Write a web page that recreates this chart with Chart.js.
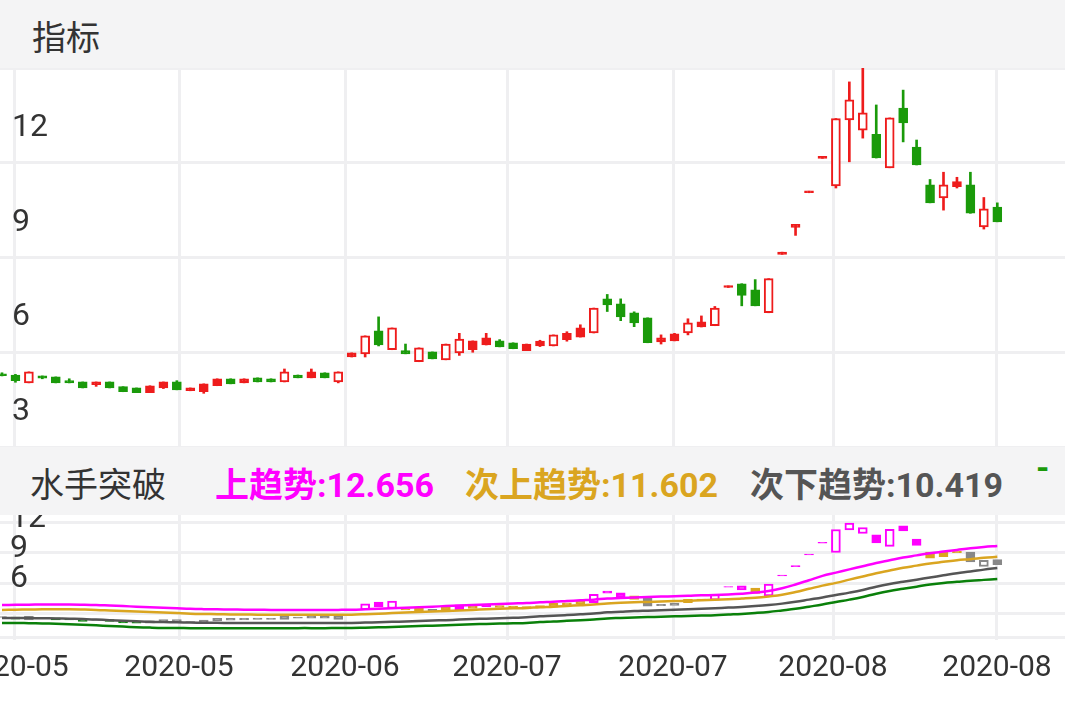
<!DOCTYPE html>
<html>
<head>
<meta charset="utf-8">
<script src="https://cdn.jsdelivr.net/npm/chart.js@4.4.0/dist/chart.umd.min.js"></script>
<style>
  body { margin: 0; width: 1065px; height: 708px; overflow: hidden; background: #fff; font-family: Roboto, "Noto Sans CJK SC", sans-serif; }
  .bar { position: absolute; left: 0; width: 1065px; height: 68px; background: #f4f4f5; color: #333; font-size: 34px; }
  .bar span { position: absolute; top: 11px; white-space: nowrap; }
  #top { position: absolute; left: 0; top: 68px; width: 1065px; height: 379px; }
  #low { position: absolute; left: 0; top: 515px; width: 1065px; height: 193px; }
</style>
</head>
<body>
<div class="bar" style="top:0"><span style="left:32px">指标</span></div>
<div class="bar" style="top:447px">
  <span style="left:30px">水手突破</span>
  <span style="left:215px;color:#ff00ff;font-weight:bold">上趋势:12.656</span>
  <span style="left:465px;color:#daa520;font-weight:bold">次上趋势:11.602</span>
  <span style="left:750px;color:#555;font-weight:bold">次下趋势:10.419</span>
  <span style="left:1036px;top:0px;color:#1a9a0a;font-weight:bold">-</span>
</div>
<div id="top"><canvas id="topChart"></canvas></div>
<div id="low"><canvas id="lowChart"></canvas></div>
<script>
const opens  = [3.82,3.78,3.53,3.75,3.72,3.6,3.56,3.47,3.56,3.41,3.37,3.22,3.37,3.56,3.28,3.25,3.44,3.66,3.53,3.69,3.66,3.56,3.78,3.69,3.85,3.56,4.35,4.45,5.18,4.58,4.55,4.2,4.51,4.26,4.48,4.58,4.73,4.86,4.8,4.55,4.7,4.7,4.9,4.98,5.11,6.19,6.03,5.75,5.59,4.83,4.86,5.11,5.3,5.34,6.55,6.67,6.48,5.75,7.6,8.45,9.55,10.64,9.77,11.86,11.53,11.4,10.34,12.23,11.0,9.8,9.39,9.74,9.8,8.47,9.1];
const highs  = [3.85,3.8,3.88,3.75,3.72,3.66,3.56,3.56,3.56,3.41,3.37,3.44,3.56,3.6,3.37,3.5,3.66,3.66,3.66,3.69,3.66,3.97,3.78,3.97,3.85,3.88,4.48,5.02,5.62,5.27,4.76,4.64,4.51,4.76,5.1,4.86,5.1,4.9,4.8,4.76,4.88,5.05,5.15,5.37,5.9,6.33,6.19,5.78,5.59,5.05,5.1,5.56,5.65,5.95,6.6,6.67,6.8,6.83,7.67,8.55,9.6,10.7,11.9,13.06,13.5,12.33,11.92,12.8,11.22,9.97,10.2,10.04,10.2,9.4,9.23];
const lows   = [3.75,3.55,3.53,3.66,3.53,3.53,3.37,3.42,3.37,3.25,3.22,3.22,3.35,3.31,3.28,3.2,3.44,3.5,3.53,3.56,3.56,3.56,3.69,3.69,3.69,3.53,4.35,4.35,4.7,4.58,4.45,4.2,4.29,4.26,4.4,4.5,4.73,4.67,4.61,4.55,4.68,4.7,4.85,4.98,5.11,5.79,5.5,5.31,4.8,4.76,4.86,5.05,5.3,5.34,6.55,5.97,5.97,5.75,7.6,8.2,9.55,10.64,9.7,10.53,11.28,10.65,10.34,11.16,10.43,9.23,9.0,9.7,8.9,8.4,8.63];
const closes = [3.78,3.6,3.88,3.68,3.53,3.53,3.37,3.56,3.37,3.25,3.22,3.44,3.56,3.31,3.37,3.5,3.66,3.5,3.66,3.56,3.56,3.88,3.69,3.88,3.69,3.88,4.48,5.02,4.73,5.27,4.45,4.64,4.29,4.76,4.92,4.86,4.96,4.67,4.61,4.76,4.85,5.05,5.1,5.27,5.9,6.0,5.62,5.43,4.8,4.96,5.08,5.43,5.46,5.9,6.6,6.3,5.97,6.83,7.67,8.55,9.6,10.7,11.9,12.49,12.08,10.65,11.92,11.76,10.43,9.23,9.8,9.9,8.9,9.04,8.63];

const upTrend = [4.9,4.92,4.93,4.95,4.95,4.95,4.93,4.9,4.85,4.8,4.75,4.7,4.65,4.6,4.55,4.52,4.5,4.48,4.47,4.46,4.45,4.45,4.45,4.45,4.45,4.45,4.46,4.5,4.55,4.6,4.65,4.7,4.75,4.8,4.85,4.9,4.95,5.0,5.04,5.08,5.15,5.2,5.27,5.34,5.4,5.5,5.55,5.6,5.64,5.68,5.72,5.75,5.8,5.83,5.88,5.95,6.05,6.2,6.45,6.8,7.2,7.6,7.9,8.2,8.5,8.8,9.05,9.3,9.5,9.7,9.85,10.0,10.15,10.27,10.37];
const subUp   = [4.45,4.47,4.48,4.5,4.5,4.5,4.48,4.45,4.4,4.35,4.3,4.25,4.2,4.15,4.1,4.07,4.05,4.03,4.02,4.01,4.0,4.0,4.0,4.0,4.0,4.0,4.01,4.05,4.1,4.15,4.2,4.25,4.3,4.35,4.4,4.45,4.5,4.55,4.59,4.63,4.7,4.75,4.82,4.89,4.95,5.05,5.1,5.15,5.19,5.23,5.27,5.3,5.35,5.38,5.43,5.5,5.58,5.7,5.85,6.1,6.4,6.7,6.95,7.25,7.55,7.85,8.1,8.35,8.55,8.75,8.9,9.05,9.15,9.27,9.37];
const subDown = [3.7,3.7,3.69,3.68,3.66,3.63,3.6,3.55,3.5,3.45,3.4,3.35,3.32,3.3,3.28,3.26,3.25,3.24,3.24,3.23,3.23,3.23,3.23,3.23,3.23,3.24,3.24,3.27,3.3,3.34,3.38,3.42,3.46,3.5,3.55,3.6,3.64,3.68,3.72,3.76,3.85,3.9,3.97,4.05,4.12,4.22,4.28,4.34,4.38,4.42,4.46,4.5,4.55,4.6,4.66,4.72,4.8,4.9,5.03,5.2,5.4,5.6,5.83,6.05,6.3,6.6,6.85,7.05,7.25,7.45,7.65,7.85,8.0,8.18,8.33];
const downTrend = [3.24,3.24,3.22,3.2,3.17,3.13,3.08,3.02,2.96,2.9,2.85,2.81,2.78,2.77,2.76,2.76,2.75,2.75,2.75,2.75,2.75,2.75,2.76,2.76,2.76,2.77,2.77,2.8,2.83,2.87,2.91,2.95,2.99,3.03,3.07,3.11,3.15,3.18,3.21,3.24,3.32,3.37,3.44,3.5,3.56,3.66,3.7,3.74,3.78,3.82,3.85,3.88,3.92,3.96,4.02,4.08,4.16,4.26,4.4,4.55,4.75,4.95,5.18,5.4,5.65,5.95,6.2,6.4,6.6,6.8,6.95,7.05,7.15,7.23,7.31];

const dateLabels = ["2020-05","2020-05","2020-06","2020-07","2020-07","2020-08","2020-08"];
const topTickLabels = ["3","6","9","12"];
const lowTickLabels = ["12","9","6"];

const RED = "#ee1c1c", GREEN = "#1a9a0a", GRID = "#efeff1";
const STEP = 13.45;
const xMin = -2 / STEP, xMax = 1063 / STEP;
const gridX = [14,179,345,507,673,833,997].map(p => (p - 2) / STEP);
const topGridY = [1.5, 4.5, 7.5, 10.5, 13.5];
const lowGridY = [1.85, 4.07, 6.94, 9.72, 12.5];

const idx = closes.map((_, i) => i);
const isUp = i => closes[i] >= opens[i];
const hollow = (i, min) => isUp(i) && closes[i] - opens[i] > min;
const body = i => {
  let a = opens[i], b = closes[i];
  if (Math.abs(a - b) < 0.06) b = a + (isUp(i) ? 0.06 : -0.06);
  return { x: i, y: [a, b] };
};

function gridAxis(min, max, vals) {
  return {
    type: "linear", min: min, max: max, offset: false,
    afterBuildTicks: ax => { ax.ticks = vals.map(v => ({ value: v })); },
    ticks: { display: false },
    border: { display: false },
    grid: { color: GRID, lineWidth: 3, drawTicks: false, offset: false }
  };
}

const topLabels = {
  id: "topLabels",
  afterDraw(chart) {
    const c = chart.ctx, y = chart.scales.y;
    c.save();
    c.font = "32px Roboto";
    c.fillStyle = "#333";
    c.textBaseline = "middle";
    topTickLabels.forEach((t, i) => c.fillText(t, 12, y.getPixelForValue(topGridY[i]) - 35));
    c.restore();
  }
};

new Chart(document.getElementById("topChart"), {
  type: "bar",
  data: {
    datasets: [
      { data: idx.map(i => ({ x: i, y: [lows[i], highs[i]] })), backgroundColor: idx.map(i => isUp(i) ? RED : GREEN), barThickness: 2, grouped: false, order: 2 },
      { data: idx.map(body), backgroundColor: idx.map(i => hollow(i, 0.3) ? "#fff" : (isUp(i) ? RED : GREEN)), borderColor: idx.map(i => isUp(i) ? RED : GREEN), borderWidth: 2, borderSkipped: false, barThickness: 9, grouped: false, order: 1 }
    ]
  },
  options: {
    responsive: true, maintainAspectRatio: false, animation: false,
    layout: { padding: 0 },
    plugins: { legend: { display: false }, tooltip: { enabled: false } },
    scales: { x: gridAxis(xMin, xMax, gridX), y: gridAxis(1.5, 13.5, topGridY) }
  },
  plugins: [topLabels]
});

function zoneColor(i) {
  const c = closes[i];
  if (c >= upTrend[i]) return "#ff00ff";
  if (c >= subUp[i]) return "#daa520";
  if (c >= subDown[i]) return "#888888";
  return "#0a8a0a";
}

const lowLabels = {
  id: "lowLabels",
  afterDraw(chart) {
    const c = chart.ctx, y = chart.scales.y, x = chart.scales.x;
    c.save();
    c.font = "32px Roboto";
    c.fillStyle = "#333";
    c.textBaseline = "middle";
    lowTickLabels.forEach((t, i) => c.fillText(t, 10, y.getPixelForValue(lowGridY[4 - i]) - 4));
    c.font = "30px Roboto";
    c.textAlign = "center";
    dateLabels.forEach((t, i) => c.fillText(t, x.getPixelForValue(gridX[i]), 153));
    c.restore();
  }
};

const lineDs = (data, color) => ({ type: "line", data: idx.map(i => ({ x: i, y: data[i] })), borderColor: color, borderWidth: 2.5, pointRadius: 0, tension: 0.4, order: 0 });

new Chart(document.getElementById("lowChart"), {
  type: "bar",
  data: {
    datasets: [
      lineDs(upTrend, "#ff00ff"),
      lineDs(subUp, "#daa520"),
      lineDs(subDown, "#555555"),
      lineDs(downTrend, "#0a800a"),
      { data: idx.map(body), backgroundColor: idx.map(i => hollow(i, 0.5) ? "#fff" : zoneColor(i)), borderColor: idx.map(zoneColor), borderWidth: 2, borderSkipped: false, barThickness: 9, grouped: false, order: 1 }
    ]
  },
  options: {
    responsive: true, maintainAspectRatio: false, animation: false,
    layout: { padding: { bottom: 68 } },
    plugins: { legend: { display: false }, tooltip: { enabled: false } },
    scales: { x: gridAxis(xMin, xMax, gridX), y: gridAxis(1.66, 13.24, lowGridY) }
  },
  plugins: [lowLabels]
});
</script>
</body>
</html>
